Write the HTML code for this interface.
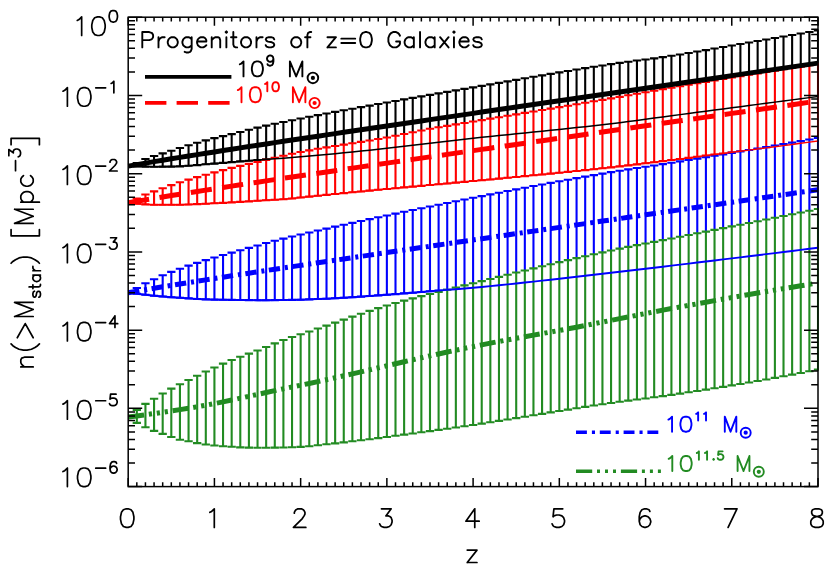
<!DOCTYPE html>
<html><head><meta charset="utf-8"><title>Progenitors of z=0 Galaxies</title>
<style>html,body{margin:0;padding:0;background:#fff;font-family:"Liberation Sans",sans-serif;}svg{display:block;}</style>
</head><body>
<svg width="830" height="571" viewBox="0 0 830 571">
<rect x="0" y="0" width="830" height="571" fill="#ffffff"/>
<defs><clipPath id="cp"><rect x="127.40" y="16.40" width="691.40" height="471.00"/></clipPath></defs>
<g clip-path="url(#cp)">
<polygon points="128.20,166.10 136.82,163.00 145.44,159.00 154.07,156.00 162.69,153.40 171.31,150.80 179.93,148.03 188.56,145.30 197.18,142.77 205.80,140.36 214.42,138.10 223.05,136.08 231.67,134.10 240.29,131.94 248.91,129.71 257.54,127.60 266.16,125.65 274.78,123.79 283.40,121.98 292.03,120.23 300.65,118.50 309.27,116.80 317.89,115.14 326.52,113.50 335.14,111.89 343.76,110.30 352.38,108.72 361.01,107.16 369.63,105.60 378.25,104.05 386.87,102.50 395.50,100.95 404.12,99.42 412.74,97.90 421.36,96.38 429.99,94.88 438.61,93.38 447.23,91.89 455.85,90.40 464.48,88.91 473.10,87.40 481.72,85.89 490.34,84.38 498.97,82.86 507.59,81.34 516.21,79.83 524.83,78.32 533.46,76.82 542.08,75.34 550.70,73.86 559.33,72.41 567.95,70.97 576.57,69.55 585.19,68.16 593.82,66.79 602.44,65.45 611.06,64.15 619.68,62.87 628.30,61.68 636.93,60.56 645.55,59.46 654.17,58.33 662.80,57.13 671.42,55.82 680.04,54.46 688.66,53.03 697.28,51.57 705.91,50.08 714.53,48.56 723.15,47.03 731.77,45.51 740.40,43.99 749.02,42.50 757.64,41.02 766.26,39.53 774.89,38.03 783.51,36.54 792.13,35.03 800.75,33.53 809.38,32.01 818.00,30.50 818.00,96.50 809.38,97.62 800.75,98.74 792.13,99.87 783.51,100.99 774.89,102.12 766.26,103.25 757.64,104.38 749.02,105.51 740.40,106.65 731.77,107.78 723.15,108.92 714.53,110.06 705.91,111.20 697.28,112.34 688.66,113.48 680.04,114.62 671.42,115.77 662.80,116.91 654.17,118.08 645.55,119.27 636.93,120.45 628.30,121.60 619.68,122.69 611.06,123.73 602.44,124.73 593.82,125.71 585.19,126.66 576.57,127.60 567.95,128.51 559.33,129.41 550.70,130.30 542.08,131.18 533.46,132.05 524.83,132.93 516.21,133.80 507.59,134.68 498.97,135.56 490.34,136.46 481.72,137.37 473.10,138.29 464.48,139.24 455.85,140.21 447.23,141.21 438.61,142.26 429.99,143.30 421.36,144.33 412.74,145.35 404.12,146.37 395.50,147.35 386.87,148.30 378.25,149.22 369.63,150.13 361.01,151.03 352.38,151.92 343.76,152.80 335.14,153.66 326.52,154.49 317.89,155.30 309.27,156.08 300.65,156.84 292.03,157.55 283.40,158.23 274.78,158.83 266.16,159.39 257.54,160.00 248.91,160.68 240.29,161.42 231.67,162.17 223.05,162.91 214.42,163.60 205.80,164.32 197.18,165.09 188.56,165.80 179.93,166.34 171.31,166.60 162.69,166.67 154.07,166.70 145.44,166.62 136.82,166.41 128.20,166.10" fill="#ffffff"/>
<path d="M136.82 163.00V166.41M132.67 163.00H140.97M132.67 166.41H140.97M145.44 159.00V166.62M141.29 159.00H149.59M141.29 166.62H149.59M154.07 156.00V166.70M149.92 156.00H158.22M149.92 166.70H158.22M162.69 153.40V166.67M158.54 153.40H166.84M158.54 166.67H166.84M171.31 150.80V166.60M167.16 150.80H175.46M167.16 166.60H175.46M179.93 148.03V166.34M175.78 148.03H184.08M175.78 166.34H184.08M188.56 145.30V165.80M184.41 145.30H192.71M184.41 165.80H192.71M197.18 142.77V165.09M193.03 142.77H201.33M193.03 165.09H201.33M205.80 140.36V164.32M201.65 140.36H209.95M201.65 164.32H209.95M214.42 138.10V163.60M210.27 138.10H218.57M210.27 163.60H218.57M223.05 136.08V162.91M218.90 136.08H227.20M218.90 162.91H227.20M231.67 134.10V162.17M227.52 134.10H235.82M227.52 162.17H235.82M240.29 131.94V161.42M236.14 131.94H244.44M236.14 161.42H244.44M248.91 129.71V160.68M244.76 129.71H253.06M244.76 160.68H253.06M257.54 127.60V160.00M253.39 127.60H261.69M253.39 160.00H261.69M266.16 125.65V159.39M262.01 125.65H270.31M262.01 159.39H270.31M274.78 123.79V158.83M270.63 123.79H278.93M270.63 158.83H278.93M283.40 121.98V158.23M279.25 121.98H287.55M279.25 158.23H287.55M292.03 120.23V157.55M287.88 120.23H296.18M287.88 157.55H296.18M300.65 118.50V156.84M296.50 118.50H304.80M296.50 156.84H304.80M309.27 116.80V156.08M305.12 116.80H313.42M305.12 156.08H313.42M317.89 115.14V155.30M313.75 115.14H322.04M313.75 155.30H322.04M326.52 113.50V154.49M322.37 113.50H330.67M322.37 154.49H330.67M335.14 111.89V153.66M330.99 111.89H339.29M330.99 153.66H339.29M343.76 110.30V152.80M339.61 110.30H347.91M339.61 152.80H347.91M352.38 108.72V151.92M348.24 108.72H356.53M348.24 151.92H356.53M361.01 107.16V151.03M356.86 107.16H365.16M356.86 151.03H365.16M369.63 105.60V150.13M365.48 105.60H373.78M365.48 150.13H373.78M378.25 104.05V149.22M374.10 104.05H382.40M374.10 149.22H382.40M386.87 102.50V148.30M382.72 102.50H391.02M382.72 148.30H391.02M395.50 100.95V147.35M391.35 100.95H399.65M391.35 147.35H399.65M404.12 99.42V146.37M399.97 99.42H408.27M399.97 146.37H408.27M412.74 97.90V145.35M408.59 97.90H416.89M408.59 145.35H416.89M421.36 96.38V144.33M417.21 96.38H425.51M417.21 144.33H425.51M429.99 94.88V143.30M425.84 94.88H434.14M425.84 143.30H434.14M438.61 93.38V142.26M434.46 93.38H442.76M434.46 142.26H442.76M447.23 91.89V141.21M443.08 91.89H451.38M443.08 141.21H451.38M455.85 90.40V140.21M451.70 90.40H460.00M451.70 140.21H460.00M464.48 88.91V139.24M460.33 88.91H468.63M460.33 139.24H468.63M473.10 87.40V138.29M468.95 87.40H477.25M468.95 138.29H477.25M481.72 85.89V137.37M477.57 85.89H485.87M477.57 137.37H485.87M490.34 84.38V136.46M486.19 84.38H494.49M486.19 136.46H494.49M498.97 82.86V135.56M494.82 82.86H503.12M494.82 135.56H503.12M507.59 81.34V134.68M503.44 81.34H511.74M503.44 134.68H511.74M516.21 79.83V133.80M512.06 79.83H520.36M512.06 133.80H520.36M524.83 78.32V132.93M520.68 78.32H528.98M520.68 132.93H528.98M533.46 76.82V132.05M529.31 76.82H537.61M529.31 132.05H537.61M542.08 75.34V131.18M537.93 75.34H546.23M537.93 131.18H546.23M550.70 73.86V130.30M546.55 73.86H554.85M546.55 130.30H554.85M559.33 72.41V129.41M555.18 72.41H563.48M555.18 129.41H563.48M567.95 70.97V128.51M563.80 70.97H572.10M563.80 128.51H572.10M576.57 69.55V127.60M572.42 69.55H580.72M572.42 127.60H580.72M585.19 68.16V126.66M581.04 68.16H589.34M581.04 126.66H589.34M593.82 66.79V125.71M589.67 66.79H597.97M589.67 125.71H597.97M602.44 65.45V124.73M598.29 65.45H606.59M598.29 124.73H606.59M611.06 64.15V123.73M606.91 64.15H615.21M606.91 123.73H615.21M619.68 62.87V122.69M615.53 62.87H623.83M615.53 122.69H623.83M628.30 61.68V121.60M624.15 61.68H632.45M624.15 121.60H632.45M636.93 60.56V120.45M632.78 60.56H641.08M632.78 120.45H641.08M645.55 59.46V119.27M641.40 59.46H649.70M641.40 119.27H649.70M654.17 58.33V118.08M650.02 58.33H658.32M650.02 118.08H658.32M662.80 57.13V116.91M658.65 57.13H666.95M658.65 116.91H666.95M671.42 55.82V115.77M667.27 55.82H675.57M667.27 115.77H675.57M680.04 54.46V114.62M675.89 54.46H684.19M675.89 114.62H684.19M688.66 53.03V113.48M684.51 53.03H692.81M684.51 113.48H692.81M697.28 51.57V112.34M693.13 51.57H701.43M693.13 112.34H701.43M705.91 50.08V111.20M701.76 50.08H710.06M701.76 111.20H710.06M714.53 48.56V110.06M710.38 48.56H718.68M710.38 110.06H718.68M723.15 47.03V108.92M719.00 47.03H727.30M719.00 108.92H727.30M731.77 45.51V107.78M727.62 45.51H735.92M727.62 107.78H735.92M740.40 43.99V106.65M736.25 43.99H744.55M736.25 106.65H744.55M749.02 42.50V105.51M744.87 42.50H753.17M744.87 105.51H753.17M757.64 41.02V104.38M753.49 41.02H761.79M753.49 104.38H761.79M766.26 39.53V103.25M762.11 39.53H770.41M762.11 103.25H770.41M774.89 38.03V102.12M770.74 38.03H779.04M770.74 102.12H779.04M783.51 36.54V100.99M779.36 36.54H787.66M779.36 100.99H787.66M792.13 35.03V99.87M787.98 35.03H796.28M787.98 99.87H796.28M800.75 33.53V98.74M796.60 33.53H804.90M796.60 98.74H804.90M809.38 32.01V97.62M805.23 32.01H813.53M805.23 97.62H813.53M818.00 30.50V96.50M813.85 30.50H822.15M813.85 96.50H822.15" stroke="#000000" stroke-width="2.10" fill="none"/>
<polygon points="128.20,202.80 136.82,198.50 145.44,194.50 154.07,191.40 162.69,188.30 171.31,185.10 179.93,182.25 188.56,179.60 197.18,177.10 205.80,174.72 214.42,172.40 223.05,170.10 231.67,167.90 240.29,165.84 248.91,163.87 257.54,161.90 266.16,159.87 274.78,157.80 283.40,155.76 292.03,153.80 300.65,152.00 309.27,150.36 317.89,148.82 326.52,147.37 335.14,145.98 343.76,144.62 352.38,143.27 361.01,141.91 369.63,140.51 378.25,139.05 386.87,137.50 395.50,135.82 404.12,134.04 412.74,132.23 421.36,130.46 429.99,128.80 438.61,127.29 447.23,125.86 455.85,124.42 464.48,122.97 473.10,121.52 481.72,120.08 490.34,118.64 498.97,117.20 507.59,115.77 516.21,114.33 524.83,112.90 533.46,111.47 542.08,110.03 550.70,108.59 559.33,107.14 567.95,105.70 576.57,104.24 585.19,102.78 593.82,101.31 602.44,99.83 611.06,98.35 619.68,96.85 628.30,95.32 636.93,93.77 645.55,92.20 654.17,90.66 662.80,89.15 671.42,87.67 680.04,86.20 688.66,84.74 697.28,83.29 705.91,81.84 714.53,80.40 723.15,78.97 731.77,77.55 740.40,76.14 749.02,74.74 757.64,73.36 766.26,71.98 774.89,70.62 783.51,69.27 792.13,67.93 800.75,66.60 809.38,65.29 818.00,64.00 818.00,141.00 809.38,142.16 800.75,143.31 792.13,144.46 783.51,145.61 774.89,146.74 766.26,147.87 757.64,149.00 749.02,150.12 740.40,151.24 731.77,152.35 723.15,153.46 714.53,154.56 705.91,155.66 697.28,156.76 688.66,157.85 680.04,158.94 671.42,160.03 662.80,161.11 654.17,162.20 645.55,163.29 636.93,164.36 628.30,165.40 619.68,166.40 611.06,167.36 602.44,168.30 593.82,169.22 585.19,170.13 576.57,171.03 567.95,171.91 559.33,172.77 550.70,173.63 542.08,174.48 533.46,175.32 524.83,176.15 516.21,176.98 507.59,177.80 498.97,178.61 490.34,179.43 481.72,180.24 473.10,181.05 464.48,181.86 455.85,182.67 447.23,183.49 438.61,184.28 429.99,185.07 421.36,185.84 412.74,186.62 404.12,187.40 395.50,188.19 386.87,189.00 378.25,189.82 369.63,190.65 361.01,191.48 352.38,192.32 343.76,193.16 335.14,194.02 326.52,194.88 317.89,195.74 309.27,196.62 300.65,197.50 292.03,198.46 283.40,199.23 274.78,199.81 266.16,200.30 257.54,200.80 248.91,201.33 240.29,201.87 231.67,202.40 223.05,202.88 214.42,203.30 205.80,203.70 197.18,204.10 188.56,204.45 179.93,204.70 171.31,204.80 162.69,204.77 154.07,204.70 145.44,204.39 136.82,203.71 128.20,202.80" fill="#ffffff"/>
<path d="M136.82 198.50V203.71M132.67 198.50H140.97M132.67 203.71H140.97M145.44 194.50V204.39M141.29 194.50H149.59M141.29 204.39H149.59M154.07 191.40V204.70M149.92 191.40H158.22M149.92 204.70H158.22M162.69 188.30V204.77M158.54 188.30H166.84M158.54 204.77H166.84M171.31 185.10V204.80M167.16 185.10H175.46M167.16 204.80H175.46M179.93 182.25V204.70M175.78 182.25H184.08M175.78 204.70H184.08M188.56 179.60V204.45M184.41 179.60H192.71M184.41 204.45H192.71M197.18 177.10V204.10M193.03 177.10H201.33M193.03 204.10H201.33M205.80 174.72V203.70M201.65 174.72H209.95M201.65 203.70H209.95M214.42 172.40V203.30M210.27 172.40H218.57M210.27 203.30H218.57M223.05 170.10V202.88M218.90 170.10H227.20M218.90 202.88H227.20M231.67 167.90V202.40M227.52 167.90H235.82M227.52 202.40H235.82M240.29 165.84V201.87M236.14 165.84H244.44M236.14 201.87H244.44M248.91 163.87V201.33M244.76 163.87H253.06M244.76 201.33H253.06M257.54 161.90V200.80M253.39 161.90H261.69M253.39 200.80H261.69M266.16 159.87V200.30M262.01 159.87H270.31M262.01 200.30H270.31M274.78 157.80V199.81M270.63 157.80H278.93M270.63 199.81H278.93M283.40 155.76V199.23M279.25 155.76H287.55M279.25 199.23H287.55M292.03 153.80V198.46M287.88 153.80H296.18M287.88 198.46H296.18M300.65 152.00V197.50M296.50 152.00H304.80M296.50 197.50H304.80M309.27 150.36V196.62M305.12 150.36H313.42M305.12 196.62H313.42M317.89 148.82V195.74M313.75 148.82H322.04M313.75 195.74H322.04M326.52 147.37V194.88M322.37 147.37H330.67M322.37 194.88H330.67M335.14 145.98V194.02M330.99 145.98H339.29M330.99 194.02H339.29M343.76 144.62V193.16M339.61 144.62H347.91M339.61 193.16H347.91M352.38 143.27V192.32M348.24 143.27H356.53M348.24 192.32H356.53M361.01 141.91V191.48M356.86 141.91H365.16M356.86 191.48H365.16M369.63 140.51V190.65M365.48 140.51H373.78M365.48 190.65H373.78M378.25 139.05V189.82M374.10 139.05H382.40M374.10 189.82H382.40M386.87 137.50V189.00M382.72 137.50H391.02M382.72 189.00H391.02M395.50 135.82V188.19M391.35 135.82H399.65M391.35 188.19H399.65M404.12 134.04V187.40M399.97 134.04H408.27M399.97 187.40H408.27M412.74 132.23V186.62M408.59 132.23H416.89M408.59 186.62H416.89M421.36 130.46V185.84M417.21 130.46H425.51M417.21 185.84H425.51M429.99 128.80V185.07M425.84 128.80H434.14M425.84 185.07H434.14M438.61 127.29V184.28M434.46 127.29H442.76M434.46 184.28H442.76M447.23 125.86V183.49M443.08 125.86H451.38M443.08 183.49H451.38M455.85 124.42V182.67M451.70 124.42H460.00M451.70 182.67H460.00M464.48 122.97V181.86M460.33 122.97H468.63M460.33 181.86H468.63M473.10 121.52V181.05M468.95 121.52H477.25M468.95 181.05H477.25M481.72 120.08V180.24M477.57 120.08H485.87M477.57 180.24H485.87M490.34 118.64V179.43M486.19 118.64H494.49M486.19 179.43H494.49M498.97 117.20V178.61M494.82 117.20H503.12M494.82 178.61H503.12M507.59 115.77V177.80M503.44 115.77H511.74M503.44 177.80H511.74M516.21 114.33V176.98M512.06 114.33H520.36M512.06 176.98H520.36M524.83 112.90V176.15M520.68 112.90H528.98M520.68 176.15H528.98M533.46 111.47V175.32M529.31 111.47H537.61M529.31 175.32H537.61M542.08 110.03V174.48M537.93 110.03H546.23M537.93 174.48H546.23M550.70 108.59V173.63M546.55 108.59H554.85M546.55 173.63H554.85M559.33 107.14V172.77M555.18 107.14H563.48M555.18 172.77H563.48M567.95 105.70V171.91M563.80 105.70H572.10M563.80 171.91H572.10M576.57 104.24V171.03M572.42 104.24H580.72M572.42 171.03H580.72M585.19 102.78V170.13M581.04 102.78H589.34M581.04 170.13H589.34M593.82 101.31V169.22M589.67 101.31H597.97M589.67 169.22H597.97M602.44 99.83V168.30M598.29 99.83H606.59M598.29 168.30H606.59M611.06 98.35V167.36M606.91 98.35H615.21M606.91 167.36H615.21M619.68 96.85V166.40M615.53 96.85H623.83M615.53 166.40H623.83M628.30 95.32V165.40M624.15 95.32H632.45M624.15 165.40H632.45M636.93 93.77V164.36M632.78 93.77H641.08M632.78 164.36H641.08M645.55 92.20V163.29M641.40 92.20H649.70M641.40 163.29H649.70M654.17 90.66V162.20M650.02 90.66H658.32M650.02 162.20H658.32M662.80 89.15V161.11M658.65 89.15H666.95M658.65 161.11H666.95M671.42 87.67V160.03M667.27 87.67H675.57M667.27 160.03H675.57M680.04 86.20V158.94M675.89 86.20H684.19M675.89 158.94H684.19M688.66 84.74V157.85M684.51 84.74H692.81M684.51 157.85H692.81M697.28 83.29V156.76M693.13 83.29H701.43M693.13 156.76H701.43M705.91 81.84V155.66M701.76 81.84H710.06M701.76 155.66H710.06M714.53 80.40V154.56M710.38 80.40H718.68M710.38 154.56H718.68M723.15 78.97V153.46M719.00 78.97H727.30M719.00 153.46H727.30M731.77 77.55V152.35M727.62 77.55H735.92M727.62 152.35H735.92M740.40 76.14V151.24M736.25 76.14H744.55M736.25 151.24H744.55M749.02 74.74V150.12M744.87 74.74H753.17M744.87 150.12H753.17M757.64 73.36V149.00M753.49 73.36H761.79M753.49 149.00H761.79M766.26 71.98V147.87M762.11 71.98H770.41M762.11 147.87H770.41M774.89 70.62V146.74M770.74 70.62H779.04M770.74 146.74H779.04M783.51 69.27V145.61M779.36 69.27H787.66M779.36 145.61H787.66M792.13 67.93V144.46M787.98 67.93H796.28M787.98 144.46H796.28M800.75 66.60V143.31M796.60 66.60H804.90M796.60 143.31H804.90M809.38 65.29V142.16M805.23 65.29H813.53M805.23 142.16H813.53M818.00 64.00V141.00M813.85 64.00H822.15M813.85 141.00H822.15" stroke="#ff0000" stroke-width="2.10" fill="none"/>
<polygon points="128.20,292.70 136.82,288.00 145.44,283.30 154.07,279.20 162.69,275.20 171.31,271.90 179.93,268.70 188.56,265.60 197.18,262.90 205.80,260.17 214.42,257.50 223.05,255.01 231.67,252.60 240.29,250.25 248.91,247.90 257.54,245.43 266.16,243.00 274.78,240.75 283.40,238.62 292.03,236.57 300.65,234.55 309.27,232.55 317.89,230.57 326.52,228.61 335.14,226.67 343.76,224.76 352.38,222.86 361.01,220.97 369.63,219.11 378.25,217.26 386.87,215.43 395.50,213.61 404.12,211.81 412.74,210.02 421.36,208.25 429.99,206.48 438.61,204.73 447.23,202.99 455.85,201.26 464.48,199.53 473.10,197.81 481.72,196.10 490.34,194.40 498.97,192.71 507.59,191.03 516.21,189.36 524.83,187.71 533.46,186.07 542.08,184.44 550.70,182.84 559.33,181.25 567.95,179.68 576.57,178.13 585.19,176.60 593.82,175.09 602.44,173.61 611.06,172.15 619.68,170.72 628.30,169.35 636.93,168.04 645.55,166.76 654.17,165.47 662.80,164.14 671.42,162.76 680.04,161.38 688.66,159.99 697.28,158.60 705.91,157.19 714.53,155.78 723.15,154.35 731.77,152.92 740.40,151.48 749.02,150.03 757.64,148.57 766.26,147.09 774.89,145.61 783.51,144.11 792.13,142.60 800.75,141.08 809.38,139.55 818.00,138.00 818.00,247.70 809.38,248.78 800.75,249.86 792.13,250.94 783.51,252.01 774.89,253.08 766.26,254.14 757.64,255.20 749.02,256.26 740.40,257.32 731.77,258.37 723.15,259.42 714.53,260.47 705.91,261.51 697.28,262.55 688.66,263.59 680.04,264.63 671.42,265.67 662.80,266.70 654.17,267.74 645.55,268.77 636.93,269.80 628.30,270.81 619.68,271.81 611.06,272.78 602.44,273.76 593.82,274.75 585.19,275.75 576.57,276.74 567.95,277.73 559.33,278.72 550.70,279.70 542.08,280.67 533.46,281.62 524.83,282.56 516.21,283.49 507.59,284.39 498.97,285.26 490.34,286.12 481.72,286.94 473.10,287.73 464.48,288.48 455.85,289.20 447.23,289.89 438.61,290.59 429.99,291.29 421.36,292.00 412.74,292.70 404.12,293.40 395.50,294.09 386.87,294.76 378.25,295.42 369.63,296.05 361.01,296.65 352.38,297.22 343.76,297.75 335.14,298.24 326.52,298.68 317.89,299.07 309.27,299.41 300.65,299.68 292.03,299.89 283.40,300.04 274.78,300.15 266.16,300.20 257.54,300.18 248.91,300.12 240.29,300.03 231.67,299.91 223.05,299.76 214.42,299.60 205.80,299.34 197.18,298.93 188.56,298.41 179.93,297.82 171.31,297.20 162.69,296.51 154.07,295.70 145.44,294.78 136.82,293.78 128.20,292.70" fill="#ffffff"/>
<path d="M136.82 288.00V293.78M132.67 288.00H140.97M132.67 293.78H140.97M145.44 283.30V294.78M141.29 283.30H149.59M141.29 294.78H149.59M154.07 279.20V295.70M149.92 279.20H158.22M149.92 295.70H158.22M162.69 275.20V296.51M158.54 275.20H166.84M158.54 296.51H166.84M171.31 271.90V297.20M167.16 271.90H175.46M167.16 297.20H175.46M179.93 268.70V297.82M175.78 268.70H184.08M175.78 297.82H184.08M188.56 265.60V298.41M184.41 265.60H192.71M184.41 298.41H192.71M197.18 262.90V298.93M193.03 262.90H201.33M193.03 298.93H201.33M205.80 260.17V299.34M201.65 260.17H209.95M201.65 299.34H209.95M214.42 257.50V299.60M210.27 257.50H218.57M210.27 299.60H218.57M223.05 255.01V299.76M218.90 255.01H227.20M218.90 299.76H227.20M231.67 252.60V299.91M227.52 252.60H235.82M227.52 299.91H235.82M240.29 250.25V300.03M236.14 250.25H244.44M236.14 300.03H244.44M248.91 247.90V300.12M244.76 247.90H253.06M244.76 300.12H253.06M257.54 245.43V300.18M253.39 245.43H261.69M253.39 300.18H261.69M266.16 243.00V300.20M262.01 243.00H270.31M262.01 300.20H270.31M274.78 240.75V300.15M270.63 240.75H278.93M270.63 300.15H278.93M283.40 238.62V300.04M279.25 238.62H287.55M279.25 300.04H287.55M292.03 236.57V299.89M287.88 236.57H296.18M287.88 299.89H296.18M300.65 234.55V299.68M296.50 234.55H304.80M296.50 299.68H304.80M309.27 232.55V299.41M305.12 232.55H313.42M305.12 299.41H313.42M317.89 230.57V299.07M313.75 230.57H322.04M313.75 299.07H322.04M326.52 228.61V298.68M322.37 228.61H330.67M322.37 298.68H330.67M335.14 226.67V298.24M330.99 226.67H339.29M330.99 298.24H339.29M343.76 224.76V297.75M339.61 224.76H347.91M339.61 297.75H347.91M352.38 222.86V297.22M348.24 222.86H356.53M348.24 297.22H356.53M361.01 220.97V296.65M356.86 220.97H365.16M356.86 296.65H365.16M369.63 219.11V296.05M365.48 219.11H373.78M365.48 296.05H373.78M378.25 217.26V295.42M374.10 217.26H382.40M374.10 295.42H382.40M386.87 215.43V294.76M382.72 215.43H391.02M382.72 294.76H391.02M395.50 213.61V294.09M391.35 213.61H399.65M391.35 294.09H399.65M404.12 211.81V293.40M399.97 211.81H408.27M399.97 293.40H408.27M412.74 210.02V292.70M408.59 210.02H416.89M408.59 292.70H416.89M421.36 208.25V292.00M417.21 208.25H425.51M417.21 292.00H425.51M429.99 206.48V291.29M425.84 206.48H434.14M425.84 291.29H434.14M438.61 204.73V290.59M434.46 204.73H442.76M434.46 290.59H442.76M447.23 202.99V289.89M443.08 202.99H451.38M443.08 289.89H451.38M455.85 201.26V289.20M451.70 201.26H460.00M451.70 289.20H460.00M464.48 199.53V288.48M460.33 199.53H468.63M460.33 288.48H468.63M473.10 197.81V287.73M468.95 197.81H477.25M468.95 287.73H477.25M481.72 196.10V286.94M477.57 196.10H485.87M477.57 286.94H485.87M490.34 194.40V286.12M486.19 194.40H494.49M486.19 286.12H494.49M498.97 192.71V285.26M494.82 192.71H503.12M494.82 285.26H503.12M507.59 191.03V284.39M503.44 191.03H511.74M503.44 284.39H511.74M516.21 189.36V283.49M512.06 189.36H520.36M512.06 283.49H520.36M524.83 187.71V282.56M520.68 187.71H528.98M520.68 282.56H528.98M533.46 186.07V281.62M529.31 186.07H537.61M529.31 281.62H537.61M542.08 184.44V280.67M537.93 184.44H546.23M537.93 280.67H546.23M550.70 182.84V279.70M546.55 182.84H554.85M546.55 279.70H554.85M559.33 181.25V278.72M555.18 181.25H563.48M555.18 278.72H563.48M567.95 179.68V277.73M563.80 179.68H572.10M563.80 277.73H572.10M576.57 178.13V276.74M572.42 178.13H580.72M572.42 276.74H580.72M585.19 176.60V275.75M581.04 176.60H589.34M581.04 275.75H589.34M593.82 175.09V274.75M589.67 175.09H597.97M589.67 274.75H597.97M602.44 173.61V273.76M598.29 173.61H606.59M598.29 273.76H606.59M611.06 172.15V272.78M606.91 172.15H615.21M606.91 272.78H615.21M619.68 170.72V271.81M615.53 170.72H623.83M615.53 271.81H623.83M628.30 169.35V270.81M624.15 169.35H632.45M624.15 270.81H632.45M636.93 168.04V269.80M632.78 168.04H641.08M632.78 269.80H641.08M645.55 166.76V268.77M641.40 166.76H649.70M641.40 268.77H649.70M654.17 165.47V267.74M650.02 165.47H658.32M650.02 267.74H658.32M662.80 164.14V266.70M658.65 164.14H666.95M658.65 266.70H666.95M671.42 162.76V265.67M667.27 162.76H675.57M667.27 265.67H675.57M680.04 161.38V264.63M675.89 161.38H684.19M675.89 264.63H684.19M688.66 159.99V263.59M684.51 159.99H692.81M684.51 263.59H692.81M697.28 158.60V262.55M693.13 158.60H701.43M693.13 262.55H701.43M705.91 157.19V261.51M701.76 157.19H710.06M701.76 261.51H710.06M714.53 155.78V260.47M710.38 155.78H718.68M710.38 260.47H718.68M723.15 154.35V259.42M719.00 154.35H727.30M719.00 259.42H727.30M731.77 152.92V258.37M727.62 152.92H735.92M727.62 258.37H735.92M740.40 151.48V257.32M736.25 151.48H744.55M736.25 257.32H744.55M749.02 150.03V256.26M744.87 150.03H753.17M744.87 256.26H753.17M757.64 148.57V255.20M753.49 148.57H761.79M753.49 255.20H761.79M766.26 147.09V254.14M762.11 147.09H770.41M762.11 254.14H770.41M774.89 145.61V253.08M770.74 145.61H779.04M770.74 253.08H779.04M783.51 144.11V252.01M779.36 144.11H787.66M779.36 252.01H787.66M792.13 142.60V250.94M787.98 142.60H796.28M787.98 250.94H796.28M800.75 141.08V249.86M796.60 141.08H804.90M796.60 249.86H804.90M809.38 139.55V248.78M805.23 139.55H813.53M805.23 248.78H813.53M818.00 138.00V247.70M813.85 138.00H822.15M813.85 247.70H822.15" stroke="#0000ff" stroke-width="2.10" fill="none"/>
<polygon points="128.20,417.00 136.82,410.00 145.44,403.90 154.07,398.75 162.69,393.50 171.31,388.60 179.93,384.30 188.56,380.00 197.18,375.75 205.80,371.55 214.42,367.50 223.05,363.63 231.67,360.00 240.29,356.74 248.91,353.67 257.54,350.50 266.16,347.00 274.78,343.37 283.40,339.94 292.03,337.00 300.65,334.30 309.27,331.46 317.89,328.54 326.52,325.59 335.14,322.60 343.76,319.62 352.38,316.66 361.01,313.74 369.63,310.90 378.25,308.15 386.87,305.51 395.50,303.02 404.12,300.64 412.74,298.36 421.36,296.15 429.99,293.99 438.61,291.85 447.23,289.72 455.85,287.58 464.48,285.42 473.10,283.27 481.72,281.12 490.34,278.97 498.97,276.83 507.59,274.70 516.21,272.57 524.83,270.46 533.46,268.36 542.08,266.28 550.70,264.22 559.33,262.17 567.95,260.15 576.57,258.16 585.19,256.19 593.82,254.25 602.44,252.35 611.06,250.47 619.68,248.64 628.30,246.87 636.93,245.17 645.55,243.51 654.17,241.85 662.80,240.17 671.42,238.46 680.04,236.74 688.66,235.03 697.28,233.31 705.91,231.59 714.53,229.87 723.15,228.15 731.77,226.42 740.40,224.69 749.02,222.96 757.64,221.22 766.26,219.49 774.89,217.75 783.51,216.00 792.13,214.26 800.75,212.51 809.38,210.76 818.00,209.00 818.00,369.60 809.38,371.32 800.75,373.01 792.13,374.67 783.51,376.29 774.89,377.89 766.26,379.45 757.64,380.98 749.02,382.49 740.40,383.97 731.77,385.42 723.15,386.84 714.53,388.24 705.91,389.61 697.28,390.96 688.66,392.28 680.04,393.59 671.42,394.87 662.80,396.12 654.17,397.31 645.55,398.43 636.93,399.51 628.30,400.61 619.68,401.76 611.06,402.98 602.44,404.25 593.82,405.55 585.19,406.88 576.57,408.23 567.95,409.61 559.33,411.01 550.70,412.42 542.08,413.84 533.46,415.26 524.83,416.68 516.21,418.09 507.59,419.50 498.97,420.89 490.34,422.26 481.72,423.61 473.10,424.93 464.48,426.22 455.85,427.47 447.23,428.69 438.61,429.90 429.99,431.11 421.36,432.30 412.74,433.49 404.12,434.66 395.50,435.82 386.87,436.96 378.25,438.08 369.63,439.18 361.01,440.26 352.38,441.31 343.76,442.34 335.14,443.34 326.52,444.31 317.89,445.25 309.27,446.21 300.65,446.90 292.03,447.24 283.40,447.45 274.78,447.62 266.16,447.75 257.54,447.80 248.91,447.67 240.29,447.33 231.67,446.82 223.05,446.19 214.42,445.50 205.80,444.49 197.18,443.10 188.56,441.30 179.93,439.70 171.31,437.00 162.69,433.90 154.07,430.90 145.44,427.20 136.82,422.90 128.20,417.00" fill="#ffffff"/>
<path d="M136.82 410.00V422.90M132.67 410.00H140.97M132.67 422.90H140.97M145.44 403.90V427.20M141.29 403.90H149.59M141.29 427.20H149.59M154.07 398.75V430.90M149.92 398.75H158.22M149.92 430.90H158.22M162.69 393.50V433.90M158.54 393.50H166.84M158.54 433.90H166.84M171.31 388.60V437.00M167.16 388.60H175.46M167.16 437.00H175.46M179.93 384.30V439.70M175.78 384.30H184.08M175.78 439.70H184.08M188.56 380.00V441.30M184.41 380.00H192.71M184.41 441.30H192.71M197.18 375.75V443.10M193.03 375.75H201.33M193.03 443.10H201.33M205.80 371.55V444.49M201.65 371.55H209.95M201.65 444.49H209.95M214.42 367.50V445.50M210.27 367.50H218.57M210.27 445.50H218.57M223.05 363.63V446.19M218.90 363.63H227.20M218.90 446.19H227.20M231.67 360.00V446.82M227.52 360.00H235.82M227.52 446.82H235.82M240.29 356.74V447.33M236.14 356.74H244.44M236.14 447.33H244.44M248.91 353.67V447.67M244.76 353.67H253.06M244.76 447.67H253.06M257.54 350.50V447.80M253.39 350.50H261.69M253.39 447.80H261.69M266.16 347.00V447.75M262.01 347.00H270.31M262.01 447.75H270.31M274.78 343.37V447.62M270.63 343.37H278.93M270.63 447.62H278.93M283.40 339.94V447.45M279.25 339.94H287.55M279.25 447.45H287.55M292.03 337.00V447.24M287.88 337.00H296.18M287.88 447.24H296.18M300.65 334.30V446.90M296.50 334.30H304.80M296.50 446.90H304.80M309.27 331.46V446.21M305.12 331.46H313.42M305.12 446.21H313.42M317.89 328.54V445.25M313.75 328.54H322.04M313.75 445.25H322.04M326.52 325.59V444.31M322.37 325.59H330.67M322.37 444.31H330.67M335.14 322.60V443.34M330.99 322.60H339.29M330.99 443.34H339.29M343.76 319.62V442.34M339.61 319.62H347.91M339.61 442.34H347.91M352.38 316.66V441.31M348.24 316.66H356.53M348.24 441.31H356.53M361.01 313.74V440.26M356.86 313.74H365.16M356.86 440.26H365.16M369.63 310.90V439.18M365.48 310.90H373.78M365.48 439.18H373.78M378.25 308.15V438.08M374.10 308.15H382.40M374.10 438.08H382.40M386.87 305.51V436.96M382.72 305.51H391.02M382.72 436.96H391.02M395.50 303.02V435.82M391.35 303.02H399.65M391.35 435.82H399.65M404.12 300.64V434.66M399.97 300.64H408.27M399.97 434.66H408.27M412.74 298.36V433.49M408.59 298.36H416.89M408.59 433.49H416.89M421.36 296.15V432.30M417.21 296.15H425.51M417.21 432.30H425.51M429.99 293.99V431.11M425.84 293.99H434.14M425.84 431.11H434.14M438.61 291.85V429.90M434.46 291.85H442.76M434.46 429.90H442.76M447.23 289.72V428.69M443.08 289.72H451.38M443.08 428.69H451.38M455.85 287.58V427.47M451.70 287.58H460.00M451.70 427.47H460.00M464.48 285.42V426.22M460.33 285.42H468.63M460.33 426.22H468.63M473.10 283.27V424.93M468.95 283.27H477.25M468.95 424.93H477.25M481.72 281.12V423.61M477.57 281.12H485.87M477.57 423.61H485.87M490.34 278.97V422.26M486.19 278.97H494.49M486.19 422.26H494.49M498.97 276.83V420.89M494.82 276.83H503.12M494.82 420.89H503.12M507.59 274.70V419.50M503.44 274.70H511.74M503.44 419.50H511.74M516.21 272.57V418.09M512.06 272.57H520.36M512.06 418.09H520.36M524.83 270.46V416.68M520.68 270.46H528.98M520.68 416.68H528.98M533.46 268.36V415.26M529.31 268.36H537.61M529.31 415.26H537.61M542.08 266.28V413.84M537.93 266.28H546.23M537.93 413.84H546.23M550.70 264.22V412.42M546.55 264.22H554.85M546.55 412.42H554.85M559.33 262.17V411.01M555.18 262.17H563.48M555.18 411.01H563.48M567.95 260.15V409.61M563.80 260.15H572.10M563.80 409.61H572.10M576.57 258.16V408.23M572.42 258.16H580.72M572.42 408.23H580.72M585.19 256.19V406.88M581.04 256.19H589.34M581.04 406.88H589.34M593.82 254.25V405.55M589.67 254.25H597.97M589.67 405.55H597.97M602.44 252.35V404.25M598.29 252.35H606.59M598.29 404.25H606.59M611.06 250.47V402.98M606.91 250.47H615.21M606.91 402.98H615.21M619.68 248.64V401.76M615.53 248.64H623.83M615.53 401.76H623.83M628.30 246.87V400.61M624.15 246.87H632.45M624.15 400.61H632.45M636.93 245.17V399.51M632.78 245.17H641.08M632.78 399.51H641.08M645.55 243.51V398.43M641.40 243.51H649.70M641.40 398.43H649.70M654.17 241.85V397.31M650.02 241.85H658.32M650.02 397.31H658.32M662.80 240.17V396.12M658.65 240.17H666.95M658.65 396.12H666.95M671.42 238.46V394.87M667.27 238.46H675.57M667.27 394.87H675.57M680.04 236.74V393.59M675.89 236.74H684.19M675.89 393.59H684.19M688.66 235.03V392.28M684.51 235.03H692.81M684.51 392.28H692.81M697.28 233.31V390.96M693.13 233.31H701.43M693.13 390.96H701.43M705.91 231.59V389.61M701.76 231.59H710.06M701.76 389.61H710.06M714.53 229.87V388.24M710.38 229.87H718.68M710.38 388.24H718.68M723.15 228.15V386.84M719.00 228.15H727.30M719.00 386.84H727.30M731.77 226.42V385.42M727.62 226.42H735.92M727.62 385.42H735.92M740.40 224.69V383.97M736.25 224.69H744.55M736.25 383.97H744.55M749.02 222.96V382.49M744.87 222.96H753.17M744.87 382.49H753.17M757.64 221.22V380.98M753.49 221.22H761.79M753.49 380.98H761.79M766.26 219.49V379.45M762.11 219.49H770.41M762.11 379.45H770.41M774.89 217.75V377.89M770.74 217.75H779.04M770.74 377.89H779.04M783.51 216.00V376.29M779.36 216.00H787.66M779.36 376.29H787.66M792.13 214.26V374.67M787.98 214.26H796.28M787.98 374.67H796.28M800.75 212.51V373.01M796.60 212.51H804.90M796.60 373.01H804.90M809.38 210.76V371.32M805.23 210.76H813.53M805.23 371.32H813.53M818.00 209.00V369.60M813.85 209.00H822.15M813.85 369.60H822.15" stroke="#228b22" stroke-width="2.10" fill="none"/>
<path d="M128.20 166.10L136.82 166.41L145.44 166.62L154.07 166.70L162.69 166.67L171.31 166.60L179.93 166.34L188.56 165.80L197.18 165.09L205.80 164.32L214.42 163.60L223.05 162.91L231.67 162.17L240.29 161.42L248.91 160.68L257.54 160.00L266.16 159.39L274.78 158.83L283.40 158.23L292.03 157.55L300.65 156.84L309.27 156.08L317.89 155.30L326.52 154.49L335.14 153.66L343.76 152.80L352.38 151.92L361.01 151.03L369.63 150.13L378.25 149.22L386.87 148.30L395.50 147.35L404.12 146.37L412.74 145.35L421.36 144.33L429.99 143.30L438.61 142.26L447.23 141.21L455.85 140.21L464.48 139.24L473.10 138.29L481.72 137.37L490.34 136.46L498.97 135.56L507.59 134.68L516.21 133.80L524.83 132.93L533.46 132.05L542.08 131.18L550.70 130.30L559.33 129.41L567.95 128.51L576.57 127.60L585.19 126.66L593.82 125.71L602.44 124.73L611.06 123.73L619.68 122.69L628.30 121.60L636.93 120.45L645.55 119.27L654.17 118.08L662.80 116.91L671.42 115.77L680.04 114.62L688.66 113.48L697.28 112.34L705.91 111.20L714.53 110.06L723.15 108.92L731.77 107.78L740.40 106.65L749.02 105.51L757.64 104.38L766.26 103.25L774.89 102.12L783.51 100.99L792.13 99.87L800.75 98.74L809.38 97.62L818.00 96.50" stroke="#000000" stroke-width="1.50" fill="none"/>
<path d="M128.20 202.80L136.82 203.71L145.44 204.39L154.07 204.70L162.69 204.77L171.31 204.80L179.93 204.70L188.56 204.45L197.18 204.10L205.80 203.70L214.42 203.30L223.05 202.88L231.67 202.40L240.29 201.87L248.91 201.33L257.54 200.80L266.16 200.30L274.78 199.81L283.40 199.23L292.03 198.46L300.65 197.50L309.27 196.62L317.89 195.74L326.52 194.88L335.14 194.02L343.76 193.16L352.38 192.32L361.01 191.48L369.63 190.65L378.25 189.82L386.87 189.00L395.50 188.19L404.12 187.40L412.74 186.62L421.36 185.84L429.99 185.07L438.61 184.28L447.23 183.49L455.85 182.67L464.48 181.86L473.10 181.05L481.72 180.24L490.34 179.43L498.97 178.61L507.59 177.80L516.21 176.98L524.83 176.15L533.46 175.32L542.08 174.48L550.70 173.63L559.33 172.77L567.95 171.91L576.57 171.03L585.19 170.13L593.82 169.22L602.44 168.30L611.06 167.36L619.68 166.40L628.30 165.40L636.93 164.36L645.55 163.29L654.17 162.20L662.80 161.11L671.42 160.03L680.04 158.94L688.66 157.85L697.28 156.76L705.91 155.66L714.53 154.56L723.15 153.46L731.77 152.35L740.40 151.24L749.02 150.12L757.64 149.00L766.26 147.87L774.89 146.74L783.51 145.61L792.13 144.46L800.75 143.31L809.38 142.16L818.00 141.00" stroke="#ff0000" stroke-width="1.40" fill="none"/>
<path d="M128.20 292.70L136.82 293.78L145.44 294.78L154.07 295.70L162.69 296.51L171.31 297.20L179.93 297.82L188.56 298.41L197.18 298.93L205.80 299.34L214.42 299.60L223.05 299.76L231.67 299.91L240.29 300.03L248.91 300.12L257.54 300.18L266.16 300.20L274.78 300.15L283.40 300.04L292.03 299.89L300.65 299.68L309.27 299.41L317.89 299.07L326.52 298.68L335.14 298.24L343.76 297.75L352.38 297.22L361.01 296.65L369.63 296.05L378.25 295.42L386.87 294.76L395.50 294.09L404.12 293.40L412.74 292.70L421.36 292.00L429.99 291.29L438.61 290.59L447.23 289.89L455.85 289.20L464.48 288.48L473.10 287.73L481.72 286.94L490.34 286.12L498.97 285.26L507.59 284.39L516.21 283.49L524.83 282.56L533.46 281.62L542.08 280.67L550.70 279.70L559.33 278.72L567.95 277.73L576.57 276.74L585.19 275.75L593.82 274.75L602.44 273.76L611.06 272.78L619.68 271.81L628.30 270.81L636.93 269.80L645.55 268.77L654.17 267.74L662.80 266.70L671.42 265.67L680.04 264.63L688.66 263.59L697.28 262.55L705.91 261.51L714.53 260.47L723.15 259.42L731.77 258.37L740.40 257.32L749.02 256.26L757.64 255.20L766.26 254.14L774.89 253.08L783.51 252.01L792.13 250.94L800.75 249.86L809.38 248.78L818.00 247.70" stroke="#0000ff" stroke-width="1.90" fill="none"/>
<path d="M128.20 166.10L136.82 164.60L145.44 163.12L154.07 161.66L162.69 160.22L171.31 158.80L179.93 157.40L188.56 156.01L197.18 154.63L205.80 153.26L214.42 151.91L223.05 150.56L231.67 149.22L240.29 147.89L248.91 146.57L257.54 145.26L266.16 143.94L274.78 142.64L283.40 141.34L292.03 140.04L300.65 138.75L309.27 137.46L317.89 136.18L326.52 134.90L335.14 133.62L343.76 132.34L352.38 131.06L361.01 129.79L369.63 128.52L378.25 127.25L386.87 125.98L395.50 124.71L404.12 123.45L412.74 122.18L421.36 120.92L429.99 119.65L438.61 118.39L447.23 117.13L455.85 115.87L464.48 114.61L473.10 113.35L481.72 112.09L490.34 110.83L498.97 109.57L507.59 108.31L516.21 107.05L524.83 105.80L533.46 104.54L542.08 103.28L550.70 102.02L559.33 100.77L567.95 99.51L576.57 98.25L585.19 97.00L593.82 95.74L602.44 94.49L611.06 93.23L619.68 91.97L628.30 90.72L636.93 89.46L645.55 88.21L654.17 86.95L662.80 85.70L671.42 84.44L680.04 83.18L688.66 81.93L697.28 80.67L705.91 79.42L714.53 78.16L723.15 76.91L731.77 75.65L740.40 74.40L749.02 73.14L757.64 71.89L766.26 70.63L774.89 69.38L783.51 68.12L792.13 66.87L800.75 65.61L809.38 64.36L818.00 63.10" stroke="#000000" stroke-width="5.00" fill="none"/>
<path d="M128.20 202.80L136.82 201.31L145.44 199.85L154.07 198.41L162.69 196.98L171.31 195.58L179.93 194.19L188.56 192.81L197.18 191.45L205.80 190.10L214.42 188.76L223.05 187.43L231.67 186.10L240.29 184.79L248.91 183.48L257.54 182.18L266.16 180.88L274.78 179.59L283.40 178.31L292.03 177.03L300.65 175.75L309.27 174.48L317.89 173.21L326.52 171.94L335.14 170.68L343.76 169.41L352.38 168.15L361.01 166.89L369.63 165.64L378.25 164.38L386.87 163.13L395.50 161.88L404.12 160.63L412.74 159.38L421.36 158.13L429.99 156.88L438.61 155.63L447.23 154.38L455.85 153.14L464.48 151.89L473.10 150.65L481.72 149.40L490.34 148.16L498.97 146.92L507.59 145.67L516.21 144.43L524.83 143.19L533.46 141.94L542.08 140.70L550.70 139.46L559.33 138.22L567.95 136.98L576.57 135.73L585.19 134.49L593.82 133.25L602.44 132.01L611.06 130.77L619.68 129.53L628.30 128.29L636.93 127.05L645.55 125.81L654.17 124.57L662.80 123.33L671.42 122.08L680.04 120.84L688.66 119.60L697.28 118.36L705.91 117.12L714.53 115.88L723.15 114.64L731.77 113.40L740.40 112.16L749.02 110.92L757.64 109.68L766.26 108.44L774.89 107.20L783.51 105.96L792.13 104.72L800.75 103.48L809.38 102.24L818.00 101.00" stroke="#ff0000" stroke-width="5.00" fill="none" stroke-dasharray="21.2 10.53"/>
<path d="M128.20 292.70L136.82 291.20L145.44 289.72L154.07 288.26L162.69 286.82L171.31 285.40L179.93 284.00L188.56 282.61L197.18 281.23L205.80 279.86L214.42 278.51L223.05 277.16L231.67 275.82L240.29 274.49L248.91 273.17L257.54 271.86L266.16 270.54L274.78 269.24L283.40 267.94L292.03 266.64L300.65 265.35L309.27 264.06L317.89 262.78L326.52 261.50L335.14 260.22L343.76 258.94L352.38 257.66L361.01 256.39L369.63 255.12L378.25 253.85L386.87 252.58L395.50 251.31L404.12 250.05L412.74 248.78L421.36 247.52L429.99 246.25L438.61 244.99L447.23 243.73L455.85 242.47L464.48 241.21L473.10 239.95L481.72 238.69L490.34 237.43L498.97 236.17L507.59 234.91L516.21 233.65L524.83 232.40L533.46 231.14L542.08 229.88L550.70 228.62L559.33 227.37L567.95 226.11L576.57 224.85L585.19 223.60L593.82 222.34L602.44 221.09L611.06 219.83L619.68 218.57L628.30 217.32L636.93 216.06L645.55 214.81L654.17 213.55L662.80 212.30L671.42 211.04L680.04 209.78L688.66 208.53L697.28 207.27L705.91 206.02L714.53 204.76L723.15 203.51L731.77 202.25L740.40 201.00L749.02 199.74L757.64 198.49L766.26 197.23L774.89 195.98L783.51 194.72L792.13 193.47L800.75 192.21L809.38 190.96L818.00 189.70" stroke="#0000ff" stroke-width="5.00" fill="none" stroke-dasharray="11.3 4.9 3 4.54"/>
<path d="M128.20 417.00L136.82 415.91L145.44 414.76L154.07 413.56L162.69 412.30L171.31 411.00L179.93 409.64L188.56 408.23L197.18 406.75L205.80 405.21L214.42 403.60L223.05 401.89L231.67 400.07L240.29 398.18L248.91 396.28L257.54 394.40L266.16 392.54L274.78 390.68L283.40 388.82L292.03 387.00L300.65 385.24L309.27 383.45L317.89 381.59L326.52 379.69L335.14 377.76L343.76 375.80L352.38 373.82L361.01 371.82L369.63 369.81L378.25 367.80L386.87 365.78L395.50 363.77L404.12 361.77L412.74 359.78L421.36 357.81L429.99 355.86L438.61 353.94L447.23 352.06L455.85 350.21L464.48 348.40L473.10 346.61L481.72 344.87L490.34 343.16L498.97 341.50L507.59 339.88L516.21 338.29L524.83 336.72L533.46 335.15L542.08 333.59L550.70 332.02L559.33 330.44L567.95 328.82L576.57 327.17L585.19 325.49L593.82 323.79L602.44 322.08L611.06 320.36L619.68 318.66L628.30 316.94L636.93 315.22L645.55 313.50L654.17 311.81L662.80 310.16L671.42 308.55L680.04 306.95L688.66 305.35L697.28 303.77L705.91 302.19L714.53 300.63L723.15 299.08L731.77 297.54L740.40 296.01L749.02 294.50L757.64 293.00L766.26 291.52L774.89 290.05L783.51 288.61L792.13 287.18L800.75 285.76L809.38 284.37L818.00 283.00" stroke="#228b22" stroke-width="5.00" fill="none" stroke-dasharray="16 4.82 3.2 4.82 3.2 4.82 3.2 4.82"/>
</g>
<rect x="128.20" y="17.20" width="689.80" height="469.40" fill="none" stroke="#000" stroke-width="1.50"/>
<path d="M128.20 486.60v-8.60M128.20 17.20v8.60M136.82 486.60v-4.30M136.82 17.20v4.30M145.44 486.60v-4.30M145.44 17.20v4.30M154.07 486.60v-4.30M154.07 17.20v4.30M162.69 486.60v-4.30M162.69 17.20v4.30M171.31 486.60v-4.30M171.31 17.20v4.30M179.93 486.60v-4.30M179.93 17.20v4.30M188.56 486.60v-4.30M188.56 17.20v4.30M197.18 486.60v-4.30M197.18 17.20v4.30M205.80 486.60v-4.30M205.80 17.20v4.30M214.42 486.60v-8.60M214.42 17.20v8.60M223.05 486.60v-4.30M223.05 17.20v4.30M231.67 486.60v-4.30M231.67 17.20v4.30M240.29 486.60v-4.30M240.29 17.20v4.30M248.91 486.60v-4.30M248.91 17.20v4.30M257.54 486.60v-4.30M257.54 17.20v4.30M266.16 486.60v-4.30M266.16 17.20v4.30M274.78 486.60v-4.30M274.78 17.20v4.30M283.40 486.60v-4.30M283.40 17.20v4.30M292.03 486.60v-4.30M292.03 17.20v4.30M300.65 486.60v-8.60M300.65 17.20v8.60M309.27 486.60v-4.30M309.27 17.20v4.30M317.89 486.60v-4.30M317.89 17.20v4.30M326.52 486.60v-4.30M326.52 17.20v4.30M335.14 486.60v-4.30M335.14 17.20v4.30M343.76 486.60v-4.30M343.76 17.20v4.30M352.38 486.60v-4.30M352.38 17.20v4.30M361.01 486.60v-4.30M361.01 17.20v4.30M369.63 486.60v-4.30M369.63 17.20v4.30M378.25 486.60v-4.30M378.25 17.20v4.30M386.87 486.60v-8.60M386.87 17.20v8.60M395.50 486.60v-4.30M395.50 17.20v4.30M404.12 486.60v-4.30M404.12 17.20v4.30M412.74 486.60v-4.30M412.74 17.20v4.30M421.36 486.60v-4.30M421.36 17.20v4.30M429.99 486.60v-4.30M429.99 17.20v4.30M438.61 486.60v-4.30M438.61 17.20v4.30M447.23 486.60v-4.30M447.23 17.20v4.30M455.85 486.60v-4.30M455.85 17.20v4.30M464.48 486.60v-4.30M464.48 17.20v4.30M473.10 486.60v-8.60M473.10 17.20v8.60M481.72 486.60v-4.30M481.72 17.20v4.30M490.34 486.60v-4.30M490.34 17.20v4.30M498.97 486.60v-4.30M498.97 17.20v4.30M507.59 486.60v-4.30M507.59 17.20v4.30M516.21 486.60v-4.30M516.21 17.20v4.30M524.83 486.60v-4.30M524.83 17.20v4.30M533.46 486.60v-4.30M533.46 17.20v4.30M542.08 486.60v-4.30M542.08 17.20v4.30M550.70 486.60v-4.30M550.70 17.20v4.30M559.33 486.60v-8.60M559.33 17.20v8.60M567.95 486.60v-4.30M567.95 17.20v4.30M576.57 486.60v-4.30M576.57 17.20v4.30M585.19 486.60v-4.30M585.19 17.20v4.30M593.82 486.60v-4.30M593.82 17.20v4.30M602.44 486.60v-4.30M602.44 17.20v4.30M611.06 486.60v-4.30M611.06 17.20v4.30M619.68 486.60v-4.30M619.68 17.20v4.30M628.30 486.60v-4.30M628.30 17.20v4.30M636.93 486.60v-4.30M636.93 17.20v4.30M645.55 486.60v-8.60M645.55 17.20v8.60M654.17 486.60v-4.30M654.17 17.20v4.30M662.80 486.60v-4.30M662.80 17.20v4.30M671.42 486.60v-4.30M671.42 17.20v4.30M680.04 486.60v-4.30M680.04 17.20v4.30M688.66 486.60v-4.30M688.66 17.20v4.30M697.28 486.60v-4.30M697.28 17.20v4.30M705.91 486.60v-4.30M705.91 17.20v4.30M714.53 486.60v-4.30M714.53 17.20v4.30M723.15 486.60v-4.30M723.15 17.20v4.30M731.77 486.60v-8.60M731.77 17.20v8.60M740.40 486.60v-4.30M740.40 17.20v4.30M749.02 486.60v-4.30M749.02 17.20v4.30M757.64 486.60v-4.30M757.64 17.20v4.30M766.26 486.60v-4.30M766.26 17.20v4.30M774.89 486.60v-4.30M774.89 17.20v4.30M783.51 486.60v-4.30M783.51 17.20v4.30M792.13 486.60v-4.30M792.13 17.20v4.30M800.75 486.60v-4.30M800.75 17.20v4.30M809.38 486.60v-4.30M809.38 17.20v4.30M818.00 486.60v-8.60M818.00 17.20v8.60M128.20 17.20h14.00M818.00 17.20h-14.00M128.20 71.88h6.80M818.00 71.88h-6.80M128.20 58.11h6.80M818.00 58.11h-6.80M128.20 48.33h6.80M818.00 48.33h-6.80M128.20 40.75h6.80M818.00 40.75h-6.80M128.20 34.56h6.80M818.00 34.56h-6.80M128.20 29.32h6.80M818.00 29.32h-6.80M128.20 24.78h6.80M818.00 24.78h-6.80M128.20 20.78h6.80M818.00 20.78h-6.80M128.20 95.43h14.00M818.00 95.43h-14.00M128.20 150.12h6.80M818.00 150.12h-6.80M128.20 136.34h6.80M818.00 136.34h-6.80M128.20 126.57h6.80M818.00 126.57h-6.80M128.20 118.98h6.80M818.00 118.98h-6.80M128.20 112.79h6.80M818.00 112.79h-6.80M128.20 107.55h6.80M818.00 107.55h-6.80M128.20 103.01h6.80M818.00 103.01h-6.80M128.20 99.01h6.80M818.00 99.01h-6.80M128.20 173.67h14.00M818.00 173.67h-14.00M128.20 228.35h6.80M818.00 228.35h-6.80M128.20 214.57h6.80M818.00 214.57h-6.80M128.20 204.80h6.80M818.00 204.80h-6.80M128.20 197.22h6.80M818.00 197.22h-6.80M128.20 191.02h6.80M818.00 191.02h-6.80M128.20 185.79h6.80M818.00 185.79h-6.80M128.20 181.25h6.80M818.00 181.25h-6.80M128.20 177.25h6.80M818.00 177.25h-6.80M128.20 251.90h14.00M818.00 251.90h-14.00M128.20 306.58h6.80M818.00 306.58h-6.80M128.20 292.81h6.80M818.00 292.81h-6.80M128.20 283.03h6.80M818.00 283.03h-6.80M128.20 275.45h6.80M818.00 275.45h-6.80M128.20 269.26h6.80M818.00 269.26h-6.80M128.20 264.02h6.80M818.00 264.02h-6.80M128.20 259.48h6.80M818.00 259.48h-6.80M128.20 255.48h6.80M818.00 255.48h-6.80M128.20 330.13h14.00M818.00 330.13h-14.00M128.20 384.82h6.80M818.00 384.82h-6.80M128.20 371.04h6.80M818.00 371.04h-6.80M128.20 361.27h6.80M818.00 361.27h-6.80M128.20 353.68h6.80M818.00 353.68h-6.80M128.20 347.49h6.80M818.00 347.49h-6.80M128.20 342.25h6.80M818.00 342.25h-6.80M128.20 337.71h6.80M818.00 337.71h-6.80M128.20 333.71h6.80M818.00 333.71h-6.80M128.20 408.37h14.00M818.00 408.37h-14.00M128.20 463.05h6.80M818.00 463.05h-6.80M128.20 449.27h6.80M818.00 449.27h-6.80M128.20 439.50h6.80M818.00 439.50h-6.80M128.20 431.92h6.80M818.00 431.92h-6.80M128.20 425.72h6.80M818.00 425.72h-6.80M128.20 420.49h6.80M818.00 420.49h-6.80M128.20 415.95h6.80M818.00 415.95h-6.80M128.20 411.95h6.80M818.00 411.95h-6.80M128.20 486.60h14.00M818.00 486.60h-14.00" stroke="#000" stroke-width="1.50" fill="none"/>
<g transform="translate(127.20 527.40)" stroke="#000" stroke-width="1.70" fill="none" stroke-linecap="round" stroke-linejoin="round">
<path d="M-0.96 -18.59L-3.82 -17.70L-5.73 -15.04L-6.69 -10.62L-6.69 -7.96L-5.73 -3.54L-3.82 -0.89L-0.96 0.00L0.96 0.00L3.82 -0.89L5.73 -3.54L6.69 -7.96L6.69 -10.62L5.73 -15.04L3.82 -17.70L0.96 -18.59L-0.96 -18.59"/>
</g>
<g transform="translate(213.42 527.40)" stroke="#000" stroke-width="1.70" fill="none" stroke-linecap="round" stroke-linejoin="round">
<path d="M-3.54 -15.04L-1.77 -15.93L0.88 -18.59L0.88 0.00"/>
</g>
<g transform="translate(299.65 527.40)" stroke="#000" stroke-width="1.70" fill="none" stroke-linecap="round" stroke-linejoin="round">
<path d="M-5.31 -14.16L-5.31 -15.04L-4.42 -16.82L-3.54 -17.70L-1.77 -18.59L1.77 -18.59L3.54 -17.70L4.43 -16.82L5.31 -15.04L5.31 -13.28L4.43 -11.51L2.66 -8.85L-6.19 0.00L6.20 0.00"/>
</g>
<g transform="translate(385.87 527.40)" stroke="#000" stroke-width="1.70" fill="none" stroke-linecap="round" stroke-linejoin="round">
<path d="M-4.42 -18.59L5.31 -18.59L0.00 -11.51L2.66 -11.51L4.43 -10.62L5.31 -9.73L6.20 -7.08L6.20 -5.31L5.31 -2.66L3.54 -0.89L0.88 0.00L-1.77 0.00L-4.42 -0.89L-5.31 -1.77L-6.19 -3.54"/>
</g>
<g transform="translate(472.10 527.40)" stroke="#000" stroke-width="1.70" fill="none" stroke-linecap="round" stroke-linejoin="round">
<path d="M2.66 -18.59L-6.19 -6.20L7.08 -6.20M2.66 -18.59L2.66 0.00"/>
</g>
<g transform="translate(558.33 527.40)" stroke="#000" stroke-width="1.70" fill="none" stroke-linecap="round" stroke-linejoin="round">
<path d="M4.43 -18.59L-4.42 -18.59L-5.31 -10.62L-4.42 -11.51L-1.77 -12.39L0.88 -12.39L3.54 -11.51L5.31 -9.73L6.20 -7.08L6.20 -5.31L5.31 -2.66L3.54 -0.89L0.88 0.00L-1.77 0.00L-4.42 -0.89L-5.31 -1.77L-6.19 -3.54"/>
</g>
<g transform="translate(644.55 527.40)" stroke="#000" stroke-width="1.70" fill="none" stroke-linecap="round" stroke-linejoin="round">
<path d="M5.31 -15.93L4.43 -17.70L1.77 -18.59L0.00 -18.59L-2.65 -17.70L-4.42 -15.04L-5.31 -10.62L-5.31 -6.20L-4.42 -2.66L-2.65 -0.89L0.00 0.00L0.88 0.00L3.54 -0.89L5.31 -2.66L6.20 -5.31L6.20 -6.20L5.31 -8.85L3.54 -10.62L0.88 -11.51L0.00 -11.51L-2.65 -10.62L-4.42 -8.85L-5.31 -6.20"/>
</g>
<g transform="translate(730.77 527.40)" stroke="#000" stroke-width="1.70" fill="none" stroke-linecap="round" stroke-linejoin="round">
<path d="M6.20 -18.59L-2.65 0.00M-6.19 -18.59L6.20 -18.59"/>
</g>
<g transform="translate(817.00 527.40)" stroke="#000" stroke-width="1.70" fill="none" stroke-linecap="round" stroke-linejoin="round">
<path d="M-1.77 -18.59L-4.42 -17.70L-5.31 -15.93L-5.31 -14.16L-4.42 -12.39L-2.65 -11.51L0.88 -10.62L3.54 -9.73L5.31 -7.96L6.20 -6.20L6.20 -3.54L5.31 -1.77L4.43 -0.89L1.77 0.00L-1.77 0.00L-4.42 -0.89L-5.31 -1.77L-6.19 -3.54L-6.19 -6.20L-5.31 -7.96L-3.54 -9.73L-0.88 -10.62L2.66 -11.51L4.43 -12.39L5.31 -14.16L5.31 -15.93L4.43 -17.70L1.77 -18.59L-1.77 -18.59"/>
</g>
<g transform="translate(472.10 562.50)" stroke="#000" stroke-width="1.70" fill="none" stroke-linecap="round" stroke-linejoin="round">
<path d="M4.87 -12.39L-4.87 0.00M-4.87 -12.39L4.87 -12.39M-4.87 0.00L4.87 0.00"/>
</g>
<g transform="translate(107.83 22.05)" stroke="#000" stroke-width="1.70" fill="none" stroke-linecap="round" stroke-linejoin="round">
<path d="M4.89 -11.52L3.12 -10.97L1.93 -9.33L1.34 -6.58L1.34 -4.94L1.93 -2.19L3.12 -0.55L4.89 0.00L6.08 0.00L7.86 -0.55L9.04 -2.19L9.64 -4.94L9.64 -6.58L9.04 -9.33L7.86 -10.97L6.08 -11.52L4.89 -11.52"/>
</g>
<g transform="translate(71.93 35.50)" stroke="#000" stroke-width="1.70" fill="none" stroke-linecap="round" stroke-linejoin="round">
<path d="M5.31 -15.04L7.08 -15.93L9.73 -18.59L9.73 0.00M25.59 -18.59L22.73 -17.70L20.82 -15.04L19.86 -10.62L19.86 -7.96L20.82 -3.54L22.73 -0.89L25.59 0.00L27.51 0.00L30.37 -0.89L32.28 -3.54L33.24 -7.96L33.24 -10.62L32.28 -15.04L30.37 -17.70L27.51 -18.59L25.59 -18.59"/>
</g>
<g transform="translate(93.56 92.78)" stroke="#000" stroke-width="1.70" fill="none" stroke-linecap="round" stroke-linejoin="round">
<path d="M2.19 -4.94L12.07 -4.94M17.56 -9.33L18.66 -9.88L20.30 -11.52L20.30 0.00"/>
</g>
<g transform="translate(57.66 106.23)" stroke="#000" stroke-width="1.70" fill="none" stroke-linecap="round" stroke-linejoin="round">
<path d="M5.31 -15.04L7.08 -15.93L9.73 -18.59L9.73 0.00M25.59 -18.59L22.73 -17.70L20.82 -15.04L19.86 -10.62L19.86 -7.96L20.82 -3.54L22.73 -0.89L25.59 0.00L27.51 0.00L30.37 -0.89L32.28 -3.54L33.24 -7.96L33.24 -10.62L32.28 -15.04L30.37 -17.70L27.51 -18.59L25.59 -18.59"/>
</g>
<g transform="translate(93.56 171.01)" stroke="#000" stroke-width="1.70" fill="none" stroke-linecap="round" stroke-linejoin="round">
<path d="M2.19 -4.94L12.07 -4.94M16.46 -8.78L16.46 -9.33L17.01 -10.43L17.56 -10.97L18.66 -11.52L20.85 -11.52L21.95 -10.97L22.50 -10.43L23.05 -9.33L23.05 -8.23L22.50 -7.13L21.40 -5.49L15.91 0.00L23.59 0.00"/>
</g>
<g transform="translate(57.66 184.47)" stroke="#000" stroke-width="1.70" fill="none" stroke-linecap="round" stroke-linejoin="round">
<path d="M5.31 -15.04L7.08 -15.93L9.73 -18.59L9.73 0.00M25.59 -18.59L22.73 -17.70L20.82 -15.04L19.86 -10.62L19.86 -7.96L20.82 -3.54L22.73 -0.89L25.59 0.00L27.51 0.00L30.37 -0.89L32.28 -3.54L33.24 -7.96L33.24 -10.62L32.28 -15.04L30.37 -17.70L27.51 -18.59L25.59 -18.59"/>
</g>
<g transform="translate(93.56 249.25)" stroke="#000" stroke-width="1.70" fill="none" stroke-linecap="round" stroke-linejoin="round">
<path d="M2.19 -4.94L12.07 -4.94M17.01 -11.52L23.05 -11.52L19.75 -7.13L21.40 -7.13L22.50 -6.58L23.05 -6.04L23.59 -4.39L23.59 -3.29L23.05 -1.65L21.95 -0.55L20.30 0.00L18.66 0.00L17.01 -0.55L16.46 -1.10L15.91 -2.19"/>
</g>
<g transform="translate(57.66 262.70)" stroke="#000" stroke-width="1.70" fill="none" stroke-linecap="round" stroke-linejoin="round">
<path d="M5.31 -15.04L7.08 -15.93L9.73 -18.59L9.73 0.00M25.59 -18.59L22.73 -17.70L20.82 -15.04L19.86 -10.62L19.86 -7.96L20.82 -3.54L22.73 -0.89L25.59 0.00L27.51 0.00L30.37 -0.89L32.28 -3.54L33.24 -7.96L33.24 -10.62L32.28 -15.04L30.37 -17.70L27.51 -18.59L25.59 -18.59"/>
</g>
<g transform="translate(93.56 327.48)" stroke="#000" stroke-width="1.70" fill="none" stroke-linecap="round" stroke-linejoin="round">
<path d="M2.19 -4.94L12.07 -4.94M21.40 -11.52L15.91 -3.84L24.14 -3.84M21.40 -11.52L21.40 0.00"/>
</g>
<g transform="translate(57.66 340.93)" stroke="#000" stroke-width="1.70" fill="none" stroke-linecap="round" stroke-linejoin="round">
<path d="M5.31 -15.04L7.08 -15.93L9.73 -18.59L9.73 0.00M25.59 -18.59L22.73 -17.70L20.82 -15.04L19.86 -10.62L19.86 -7.96L20.82 -3.54L22.73 -0.89L25.59 0.00L27.51 0.00L30.37 -0.89L32.28 -3.54L33.24 -7.96L33.24 -10.62L32.28 -15.04L30.37 -17.70L27.51 -18.59L25.59 -18.59"/>
</g>
<g transform="translate(93.56 405.71)" stroke="#000" stroke-width="1.70" fill="none" stroke-linecap="round" stroke-linejoin="round">
<path d="M2.19 -4.94L12.07 -4.94M22.50 -11.52L17.01 -11.52L16.46 -6.58L17.01 -7.13L18.66 -7.68L20.30 -7.68L21.95 -7.13L23.05 -6.04L23.59 -4.39L23.59 -3.29L23.05 -1.65L21.95 -0.55L20.30 0.00L18.66 0.00L17.01 -0.55L16.46 -1.10L15.91 -2.19"/>
</g>
<g transform="translate(57.66 419.17)" stroke="#000" stroke-width="1.70" fill="none" stroke-linecap="round" stroke-linejoin="round">
<path d="M5.31 -15.04L7.08 -15.93L9.73 -18.59L9.73 0.00M25.59 -18.59L22.73 -17.70L20.82 -15.04L19.86 -10.62L19.86 -7.96L20.82 -3.54L22.73 -0.89L25.59 0.00L27.51 0.00L30.37 -0.89L32.28 -3.54L33.24 -7.96L33.24 -10.62L32.28 -15.04L30.37 -17.70L27.51 -18.59L25.59 -18.59"/>
</g>
<g transform="translate(93.56 473.15)" stroke="#000" stroke-width="1.70" fill="none" stroke-linecap="round" stroke-linejoin="round">
<path d="M2.19 -4.94L12.07 -4.94M23.05 -9.88L22.50 -10.97L20.85 -11.52L19.75 -11.52L18.11 -10.97L17.01 -9.33L16.46 -6.58L16.46 -3.84L17.01 -1.65L18.11 -0.55L19.75 0.00L20.30 0.00L21.95 -0.55L23.05 -1.65L23.59 -3.29L23.59 -3.84L23.05 -5.49L21.95 -6.58L20.30 -7.13L19.75 -7.13L18.11 -6.58L17.01 -5.49L16.46 -3.84"/>
</g>
<g transform="translate(57.66 486.60)" stroke="#000" stroke-width="1.70" fill="none" stroke-linecap="round" stroke-linejoin="round">
<path d="M5.31 -15.04L7.08 -15.93L9.73 -18.59L9.73 0.00M25.59 -18.59L22.73 -17.70L20.82 -15.04L19.86 -10.62L19.86 -7.96L20.82 -3.54L22.73 -0.89L25.59 0.00L27.51 0.00L30.37 -0.89L32.28 -3.54L33.24 -7.96L33.24 -10.62L32.28 -15.04L30.37 -17.70L27.51 -18.59L25.59 -18.59"/>
</g>
<g transform="translate(33.20 370.50) rotate(-90)" stroke="#000" stroke-width="1.70" fill="none" stroke-linecap="round" stroke-linejoin="round">
<path d="M3.54 -12.39L3.54 0.00M3.54 -8.85L6.20 -11.51L7.96 -12.39L10.62 -12.39L12.39 -11.51L13.28 -8.85L13.28 0.00M26.55 -22.12L24.78 -20.36L23.01 -17.70L21.24 -14.16L20.36 -9.73L20.36 -6.20L21.24 -1.77L23.01 1.77L24.78 4.42L26.55 6.20M32.75 -15.93L46.91 -7.96L32.75 0.00M53.99 -18.59L53.99 0.00M53.99 -18.59L61.07 0.00M68.15 -18.59L61.07 0.00M68.15 -18.59L68.15 0.00M79.24 1.32L78.70 0.24L77.08 -0.30L75.46 -0.30L73.84 0.24L73.30 1.32L73.84 2.40L74.92 2.94L77.62 3.48L78.70 4.02L79.24 5.10L79.24 5.64L78.70 6.72L77.08 7.26L75.46 7.26L73.84 6.72L73.30 5.64M83.56 -4.08L83.56 5.10L84.10 6.72L85.18 7.26L86.26 7.26M81.94 -0.30L85.72 -0.30M95.44 -0.30L95.44 7.26M95.44 1.32L94.36 0.24L93.28 -0.30L91.66 -0.30L90.58 0.24L89.50 1.32L88.96 2.94L88.96 4.02L89.50 5.64L90.58 6.72L91.66 7.26L93.28 7.26L94.36 6.72L95.44 5.64M99.76 -0.30L99.76 7.26M99.76 2.94L100.30 1.32L101.38 0.24L102.46 -0.30L104.08 -0.30M107.27 -22.12L109.04 -20.36L110.81 -17.70L112.58 -14.16L113.47 -9.73L113.47 -6.20L112.58 -1.77L110.81 1.77L109.04 4.42L107.27 6.20M134.71 -22.12L134.71 6.20M134.71 -22.12L140.90 -22.12M134.71 6.20L140.90 6.20M147.10 -18.59L147.10 0.00M147.10 -18.59L154.18 0.00M161.26 -18.59L154.18 0.00M161.26 -18.59L161.26 0.00M168.34 -12.39L168.34 6.20M168.34 -9.73L170.11 -11.51L171.88 -12.39L174.53 -12.39L176.30 -11.51L178.07 -9.73L178.96 -7.08L178.96 -5.31L178.07 -2.66L176.30 -0.89L174.53 0.00L171.88 0.00L170.11 -0.89L168.34 -2.66M194.89 -9.73L193.12 -11.51L191.35 -12.39L188.69 -12.39L186.92 -11.51L185.15 -9.73L184.27 -7.08L184.27 -5.31L185.15 -2.66L186.92 -0.89L188.69 0.00L191.35 0.00L193.12 -0.89L194.89 -2.66M199.77 -17.67L209.81 -17.67M214.82 -24.36L220.96 -24.36L217.61 -19.90L219.29 -19.90L220.40 -19.35L220.96 -18.79L221.52 -17.12L221.52 -16.00L220.96 -14.33L219.84 -13.21L218.17 -12.66L216.50 -12.66L214.82 -13.21L214.27 -13.77L213.71 -14.89M232.04 -22.12L232.04 6.20M225.84 -22.12L232.04 -22.12M225.84 6.20L232.04 6.20"/>
</g>
<g transform="translate(139.20 47.40)" stroke="#000" stroke-width="1.90" fill="none" stroke-linecap="round" stroke-linejoin="round">
<path d="M3.09 -15.33L3.09 0.00M3.09 -15.33L10.03 -15.33L12.34 -14.60L13.12 -13.87L13.89 -12.41L13.89 -10.22L13.12 -8.76L12.34 -8.03L10.03 -7.30L3.09 -7.30M19.29 -10.22L19.29 0.00M19.29 -5.84L20.06 -8.03L21.60 -9.49L23.14 -10.22L25.46 -10.22M32.40 -10.22L30.86 -9.49L29.32 -8.03L28.55 -5.84L28.55 -4.38L29.32 -2.19L30.86 -0.73L32.40 0.00L34.72 0.00L36.26 -0.73L37.80 -2.19L38.57 -4.38L38.57 -5.84L37.80 -8.03L36.26 -9.49L34.72 -10.22L32.40 -10.22M52.46 -10.22L52.46 1.46L51.69 3.65L50.92 4.38L49.38 5.11L47.06 5.11L45.52 4.38M52.46 -8.03L50.92 -9.49L49.38 -10.22L47.06 -10.22L45.52 -9.49L43.98 -8.03L43.20 -5.84L43.20 -4.38L43.98 -2.19L45.52 -0.73L47.06 0.00L49.38 0.00L50.92 -0.73L52.46 -2.19M57.86 -5.84L67.12 -5.84L67.12 -7.30L66.35 -8.76L65.58 -9.49L64.03 -10.22L61.72 -10.22L60.18 -9.49L58.63 -8.03L57.86 -5.84L57.86 -4.38L58.63 -2.19L60.18 -0.73L61.72 0.00L64.03 0.00L65.58 -0.73L67.12 -2.19M72.52 -10.22L72.52 0.00M72.52 -7.30L74.84 -9.49L76.38 -10.22L78.69 -10.22L80.24 -9.49L81.01 -7.30L81.01 0.00M86.41 -15.33L87.18 -14.60L87.95 -15.33L87.18 -16.06L86.41 -15.33M87.18 -10.22L87.18 0.00M94.12 -15.33L94.12 -2.92L94.89 -0.73L96.44 0.00L97.98 0.00M91.81 -10.22L97.21 -10.22M105.70 -10.22L104.15 -9.49L102.61 -8.03L101.84 -5.84L101.84 -4.38L102.61 -2.19L104.15 -0.73L105.70 0.00L108.01 0.00L109.55 -0.73L111.10 -2.19L111.87 -4.38L111.87 -5.84L111.10 -8.03L109.55 -9.49L108.01 -10.22L105.70 -10.22M117.27 -10.22L117.27 0.00M117.27 -5.84L118.04 -8.03L119.58 -9.49L121.13 -10.22L123.44 -10.22M135.01 -8.03L134.24 -9.49L131.93 -10.22L129.61 -10.22L127.30 -9.49L126.53 -8.03L127.30 -6.57L128.84 -5.84L132.70 -5.11L134.24 -4.38L135.01 -2.92L135.01 -2.19L134.24 -0.73L131.93 0.00L129.61 0.00L127.30 -0.73L126.53 -2.19M155.84 -10.22L154.30 -9.49L152.76 -8.03L151.99 -5.84L151.99 -4.38L152.76 -2.19L154.30 -0.73L155.84 0.00L158.16 0.00L159.70 -0.73L161.24 -2.19L162.01 -4.38L162.01 -5.84L161.24 -8.03L159.70 -9.49L158.16 -10.22L155.84 -10.22M172.04 -15.33L170.50 -15.33L168.96 -14.60L168.19 -12.41L168.19 0.00M165.87 -10.22L171.27 -10.22M196.73 -10.22L188.25 0.00M188.25 -10.22L196.73 -10.22M188.25 0.00L196.73 0.00M202.13 -8.76L216.02 -8.76M202.13 -4.38L216.02 -4.38M225.99 -15.33L223.49 -14.60L221.82 -12.41L220.99 -8.76L220.99 -6.57L221.82 -2.92L223.49 -0.73L225.99 0.00L227.65 0.00L230.15 -0.73L231.82 -2.92L232.65 -6.57L232.65 -8.76L231.82 -12.41L230.15 -14.60L227.65 -15.33L225.99 -15.33M260.77 -11.68L260.00 -13.14L258.45 -14.60L256.91 -15.33L253.82 -15.33L252.28 -14.60L250.74 -13.14L249.97 -11.68L249.19 -9.49L249.19 -5.84L249.97 -3.65L250.74 -2.19L252.28 -0.73L253.82 0.00L256.91 0.00L258.45 -0.73L260.00 -2.19L260.77 -3.65L260.77 -5.84M256.91 -5.84L260.77 -5.84M274.65 -10.22L274.65 0.00M274.65 -8.03L273.11 -9.49L271.57 -10.22L269.25 -10.22L267.71 -9.49L266.17 -8.03L265.40 -5.84L265.40 -4.38L266.17 -2.19L267.71 -0.73L269.25 0.00L271.57 0.00L273.11 -0.73L274.65 -2.19M280.83 -15.33L280.83 0.00M295.48 -10.22L295.48 0.00M295.48 -8.03L293.94 -9.49L292.40 -10.22L290.08 -10.22L288.54 -9.49L287.00 -8.03L286.23 -5.84L286.23 -4.38L287.00 -2.19L288.54 -0.73L290.08 0.00L292.40 0.00L293.94 -0.73L295.48 -2.19M300.89 -10.22L309.37 0.00M309.37 -10.22L300.89 0.00M314.00 -15.33L314.77 -14.60L315.54 -15.33L314.77 -16.06L314.00 -15.33M314.77 -10.22L314.77 0.00M320.17 -5.84L329.43 -5.84L329.43 -7.30L328.66 -8.76L327.89 -9.49L326.34 -10.22L324.03 -10.22L322.49 -9.49L320.94 -8.03L320.17 -5.84L320.17 -4.38L320.94 -2.19L322.49 -0.73L324.03 0.00L326.34 0.00L327.89 -0.73L329.43 -2.19M342.55 -8.03L341.77 -9.49L339.46 -10.22L337.15 -10.22L334.83 -9.49L334.06 -8.03L334.83 -6.57L336.37 -5.84L340.23 -5.11L341.77 -4.38L342.55 -2.92L342.55 -2.19L341.77 -0.73L339.46 0.00L337.15 0.00L334.83 -0.73L334.06 -2.19"/>
</g>
<g transform="translate(235.47 76.40)" stroke="#000" stroke-width="1.90" fill="none" stroke-linecap="round" stroke-linejoin="round">
<path d="M4.38 -12.15L5.84 -12.87L8.03 -15.01L8.03 0.00M21.11 -15.01L18.75 -14.30L17.17 -12.15L16.38 -8.58L16.38 -6.43L17.17 -2.86L18.75 -0.71L21.11 0.00L22.69 0.00L25.05 -0.71L26.63 -2.86L27.42 -6.43L27.42 -8.58L26.63 -12.15L25.05 -14.30L22.69 -15.01L21.11 -15.01"/>
</g>
<g transform="translate(265.50 65.68)" stroke="#000" stroke-width="1.90" fill="none" stroke-linecap="round" stroke-linejoin="round">
<path d="M7.94 -6.81L7.45 -5.35L6.45 -4.38L4.96 -3.89L4.47 -3.89L2.98 -4.38L1.99 -5.35L1.49 -6.81L1.49 -7.29L1.99 -8.75L2.98 -9.72L4.47 -10.21L4.96 -10.21L6.45 -9.72L7.45 -8.75L7.94 -6.81L7.94 -4.38L7.45 -1.94L6.45 -0.49L4.96 0.00L3.97 0.00L2.48 -0.49L1.99 -1.46"/>
</g>
<g transform="translate(286.78 76.40)" stroke="#000" stroke-width="1.90" fill="none" stroke-linecap="round" stroke-linejoin="round">
<path d="M3.12 -15.01L3.12 0.00M3.12 -15.01L9.36 0.00M15.60 -15.01L9.36 0.00M15.60 -15.01L15.60 0.00"/>
</g>
<circle cx="312.90" cy="77.90" r="5.30" fill="none" stroke="#000" stroke-width="1.90"/>
<circle cx="312.90" cy="77.90" r="2.1" fill="#000"/>
<g transform="translate(233.47 102.20)" stroke="#ff0000" stroke-width="1.90" fill="none" stroke-linecap="round" stroke-linejoin="round">
<path d="M4.38 -12.15L5.84 -12.87L8.03 -15.01L8.03 0.00M21.11 -15.01L18.75 -14.30L17.17 -12.15L16.38 -8.58L16.38 -6.43L17.17 -2.86L18.75 -0.71L21.11 0.00L22.69 0.00L25.05 -0.71L26.63 -2.86L27.42 -6.43L27.42 -8.58L26.63 -12.15L25.05 -14.30L22.69 -15.01L21.11 -15.01"/>
</g>
<g transform="translate(262.50 91.26)" stroke="#ff0000" stroke-width="1.90" fill="none" stroke-linecap="round" stroke-linejoin="round">
<path d="M2.63 -7.29L3.50 -7.72L4.82 -9.01L4.82 0.00M12.67 -9.01L11.25 -8.58L10.30 -7.29L9.83 -5.15L9.83 -3.86L10.30 -1.72L11.25 -0.43L12.67 0.00L13.61 0.00L15.03 -0.43L15.98 -1.72L16.45 -3.86L16.45 -5.15L15.98 -7.29L15.03 -8.58L13.61 -9.01L12.67 -9.01"/>
</g>
<g transform="translate(289.78 102.20)" stroke="#ff0000" stroke-width="1.90" fill="none" stroke-linecap="round" stroke-linejoin="round">
<path d="M3.12 -15.01L3.12 0.00M3.12 -15.01L9.36 0.00M15.60 -15.01L9.36 0.00M15.60 -15.01L15.60 0.00"/>
</g>
<circle cx="314.60" cy="103.00" r="5.10" fill="none" stroke="#ff0000" stroke-width="1.90"/>
<circle cx="314.60" cy="103.00" r="2.1" fill="#ff0000"/>
<g transform="translate(664.02 431.70)" stroke="#0000ff" stroke-width="1.90" fill="none" stroke-linecap="round" stroke-linejoin="round">
<path d="M4.38 -12.15L5.84 -12.87L8.03 -15.01L8.03 0.00M21.11 -15.01L18.75 -14.30L17.17 -12.15L16.38 -8.58L16.38 -6.43L17.17 -2.86L18.75 -0.71L21.11 0.00L22.69 0.00L25.05 -0.71L26.63 -2.86L27.42 -6.43L27.42 -8.58L26.63 -12.15L25.05 -14.30L22.69 -15.01L21.11 -15.01"/>
</g>
<g transform="translate(693.80 420.47)" stroke="#0000ff" stroke-width="1.90" fill="none" stroke-linecap="round" stroke-linejoin="round">
<path d="M2.37 -6.56L3.15 -6.95L4.34 -8.11L4.34 0.00M10.25 -6.56L11.04 -6.95L12.22 -8.11L12.22 0.00"/>
</g>
<g transform="translate(721.92 431.70)" stroke="#0000ff" stroke-width="1.90" fill="none" stroke-linecap="round" stroke-linejoin="round">
<path d="M2.88 -15.01L2.88 0.00M2.88 -15.01L8.64 0.00M14.40 -15.01L8.64 0.00M14.40 -15.01L14.40 0.00"/>
</g>
<circle cx="745.70" cy="432.70" r="5.00" fill="none" stroke="#0000ff" stroke-width="1.90"/>
<circle cx="745.70" cy="432.70" r="2.1" fill="#0000ff"/>
<g transform="translate(664.27 471.00)" stroke="#228b22" stroke-width="1.90" fill="none" stroke-linecap="round" stroke-linejoin="round">
<path d="M4.38 -12.15L5.84 -12.87L8.03 -15.01L8.03 0.00M21.11 -15.01L18.75 -14.30L17.17 -12.15L16.38 -8.58L16.38 -6.43L17.17 -2.86L18.75 -0.71L21.11 0.00L22.69 0.00L25.05 -0.71L26.63 -2.86L27.42 -6.43L27.42 -8.58L26.63 -12.15L25.05 -14.30L22.69 -15.01L21.11 -15.01"/>
</g>
<g transform="translate(694.40 459.77)" stroke="#228b22" stroke-width="1.90" fill="none" stroke-linecap="round" stroke-linejoin="round">
<path d="M2.45 -6.81L3.27 -7.21L4.50 -8.41L4.50 0.00M10.63 -6.81L11.45 -7.21L12.67 -8.41L12.67 0.00M19.21 -0.80L18.80 -0.40L19.21 0.00L19.62 -0.40L19.21 -0.80M28.21 -8.41L24.12 -8.41L23.71 -4.80L24.12 -5.21L25.35 -5.61L26.57 -5.61L27.80 -5.21L28.62 -4.40L29.02 -3.20L29.02 -2.40L28.62 -1.20L27.80 -0.40L26.57 0.00L25.35 0.00L24.12 -0.40L23.71 -0.80L23.30 -1.60"/>
</g>
<g transform="translate(734.64 471.00)" stroke="#228b22" stroke-width="1.90" fill="none" stroke-linecap="round" stroke-linejoin="round">
<path d="M2.96 -15.01L2.96 0.00M2.96 -15.01L8.88 0.00M14.80 -15.01L8.88 0.00M14.80 -15.01L14.80 0.00"/>
</g>
<circle cx="758.80" cy="471.80" r="5.00" fill="none" stroke="#228b22" stroke-width="1.90"/>
<circle cx="758.80" cy="471.80" r="2.1" fill="#228b22"/>
<path d="M145.0 76.9H231.4" stroke="#000" stroke-width="3.7"/>
<path d="M145.0 102.8H230.0" stroke="#ff0000" stroke-width="3.7" stroke-dasharray="21.4 10.2"/>
<path d="M576.0 432.3H658.6" stroke="#0000ff" stroke-width="3.5" stroke-dasharray="10.9 5.0 3.1 4.8"/>
<path d="M576.0 471.2H661.0" stroke="#228b22" stroke-width="3.5" stroke-dasharray="16.2 4.8 3 5 3 5 3 4.9"/>
</svg>
</body></html>
